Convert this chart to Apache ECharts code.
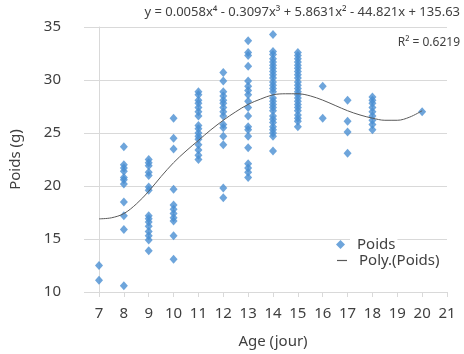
<!DOCTYPE html>
<html>
<head>
<meta charset="utf-8">
<script src="https://cdn.jsdelivr.net/npm/echarts@6/dist/echarts.min.js"></script>
<style>
    html, body {margin: 0; padding: 0; background: #fff;}
    #chart {width: 464px; height: 354px;}
</style>
</head>
<body>
<div id="chart"></div>
<script>
    // poids (g), par age (jour)
    const jour7 = [12.5, 11.1];
    const jour8 = [23.7, 22.0, 21.7, 21.4, 20.8, 20.6, 20.2, 18.5, 17.2, 15.9, 10.6];
    const jour9 = [22.5, 22.2, 21.9, 21.3, 21.0, 19.9, 19.6, 17.2, 16.9, 16.6, 16.2, 15.7, 15.3, 14.9, 13.9];
    const jour10 = [26.4, 24.5, 23.5, 19.7, 18.2, 17.8, 17.4, 17.0, 16.7, 15.3, 13.1];
    const jour11 = [28.9, 28.6, 28.1, 27.8, 27.4, 27.0, 26.6, 25.7, 25.4, 25.0, 24.7, 24.4, 23.9, 23.4, 22.9, 22.5];
    const jour12 = [30.7, 29.9, 28.9, 28.5, 28.1, 27.8, 27.4, 27.0, 26.6, 25.8, 25.5, 24.7, 23.9, 19.8, 18.9];
    const jour13 = [33.7, 32.6, 32.3, 31.3, 29.9, 29.4, 29.0, 28.6, 28.0, 27.4, 26.6, 25.6, 25.3, 24.7, 23.6, 22.1, 21.7, 21.3, 20.8];
    const jour14 = [34.3, 32.7, 32.4, 32.0, 31.7, 31.4, 31.1, 30.8, 30.5, 30.2, 29.8, 29.5, 29.2, 28.9, 28.3, 28.0, 27.7, 27.4, 27.1, 26.6, 26.3, 26.0, 25.6, 25.3, 25.0, 24.7, 23.3];
    const jour15 = [32.6, 32.3, 32.0, 31.7, 31.4, 31.1, 30.8, 30.5, 30.2, 29.8, 29.5, 29.2, 28.9, 28.6, 28.3, 28.0, 27.7, 27.4, 27.1, 26.7, 26.4, 26.1, 25.6];
    const jour16 = [29.4, 26.4];
    const jour17 = [28.1, 26.1, 25.1, 23.1];
    const jour18 = [28.4, 28.1, 27.8, 27.4, 27.0, 26.6, 26.2, 25.8, 25.3];
    const jour20 = [27.0];

    const ages = [7, 8, 9, 10, 11, 12, 13, 14, 15, 16, 17, 18, 20];
    const poidsParAge = [jour7, jour8, jour9, jour10, jour11, jour12, jour13, jour14, jour15, jour16, jour17, jour18, jour20];

    // courbe de tendance
    const trendX = [7, 7.5, 8, 8.5, 9, 9.5, 10, 10.5, 11, 11.5, 12, 12.5, 13, 13.5, 14, 14.5, 15, 15.5, 16, 16.5, 17, 17.5, 18, 18.5, 19, 19.5, 20];
    const trendY = [16.9, 17.0, 17.4, 18.3, 19.5, 20.9, 22.2, 23.3, 24.3, 25.3, 26.2, 27.0, 27.7, 28.2, 28.6, 28.7, 28.7, 28.5, 28.1, 27.6, 27.1, 26.7, 26.4, 26.2, 26.2, 26.5, 27.1];

    const equation = 'y = 0.0058x⁴ - 0.3097x³ + 5.8631x² - 44.821x + 135.63';
    const rCarre = 'R² = 0.6219';

    const points = [];
    ages.forEach((age, i) => {
        poidsParAge[i].forEach(p => points.push([age, p]));
    });
    const trend = trendX.map((x, i) => [x, trendY[i]]);

    const font = 'Noto Sans';
    const grey = '#d9d9d9';
    const textColor = '#404040';

    const myChart = echarts.init(document.getElementById('chart'));

    const option = {
        animation: false,
        textStyle: {fontFamily: font},
        grid: {left: 95, right: 17, top: 27, bottom: 61},
        title: [
            {
                text: equation,
                right: 2,
                top: 3,
                padding: [3, 2, 6, 4],
                backgroundColor: '#fff',
                textStyle: {fontSize: 13, fontWeight: 'normal', color: textColor, fontFamily: font}
            },
            {
                text: rCarre,
                right: 2,
                top: 35,
                padding: 2,
                textStyle: {fontSize: 12, fontWeight: 'normal', color: textColor, fontFamily: font}
            }
        ],
        legend: [
            {
                left: 331,
                top: 232,
                itemWidth: 9,
                itemHeight: 9,
                textStyle: {fontSize: 15, color: textColor, backgroundColor: '#fff', padding: [0, 2, 0, 7]},
                data: [{name: 'Poids', icon: 'diamond'}]
            },
            {
                left: 332,
                top: 248,
                itemWidth: 10,
                itemHeight: 1.2,
                textStyle: {fontSize: 15, color: textColor, padding: [0, 2, 0, 7]},
                data: [{name: 'Poly.(Poids)', icon: 'rect'}]
            }
        ],
        xAxis: {
            type: 'value',
            min: 7,
            max: 21,
            interval: 1,
            name: 'Age (jour)',
            nameLocation: 'middle',
            nameGap: 42,
            nameTextStyle: {fontSize: 15, color: textColor},
            axisLine: {show: true, lineStyle: {color: grey}},
            axisTick: {show: true, length: 5, lineStyle: {color: grey}},
            axisLabel: {fontSize: 15, color: textColor, margin: 14},
            splitLine: {show: false}
        },
        yAxis: {
            type: 'value',
            min: 10,
            max: 35,
            interval: 5,
            name: 'Poids (g)',
            nameLocation: 'middle',
            nameGap: 76,
            nameTextStyle: {fontSize: 15, color: textColor},
            axisLine: {show: true, lineStyle: {color: grey}},
            axisTick: {show: true, length: 15, lineStyle: {color: grey}},
            axisLabel: {fontSize: 15, color: textColor, margin: 38},
            splitLine: {show: true, lineStyle: {color: grey}}
        },
        series: [
            {
                name: 'Poids',
                type: 'scatter',
                symbol: 'diamond',
                symbolSize: [8, 9],
                itemStyle: {color: '#4a8fd2'},
                data: points,
                z: 3
            },
            {
                name: 'Poly.(Poids)',
                type: 'line',
                smooth: 0.35,
                symbol: 'none',
                lineStyle: {color: '#595959', width: 1},
                itemStyle: {color: '#595959'},
                data: trend,
                z: 4
            }
        ]
    };

    myChart.setOption(option);
</script>
</body>
</html>
